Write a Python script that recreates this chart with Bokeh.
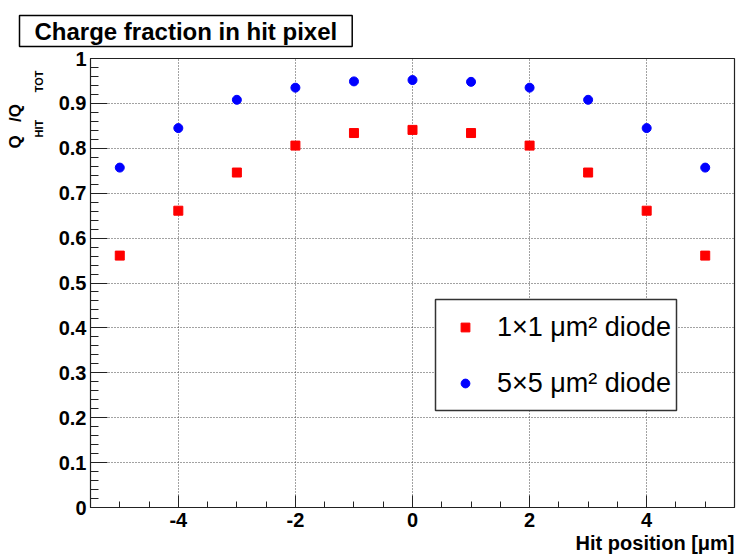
import numpy as np
from bokeh.plotting import figure
from bokeh.models import (Range1d, FixedTicker, Legend, LegendItem, Title,
                          BoxAnnotation)
from bokeh.embed import file_html
from bokeh.resources import INLINE

# ---- data ----
hit_position = [-5, -4, -3, -2, -1, 0, 1, 2, 3, 4, 5]
frac_1x1 = [0.561, 0.661, 0.746, 0.806, 0.834, 0.841, 0.834, 0.806, 0.746, 0.661, 0.561]
frac_5x5 = [0.757, 0.845, 0.908, 0.935, 0.949, 0.952, 0.948, 0.935, 0.908, 0.845, 0.757]
x_major_ticks = [-4, -2, 0, 2, 4]
x_tick_labels = ["-4", "-2", "0", "2", "4"]
y_major_ticks = [round(v, 1) for v in np.arange(0, 1.01, 0.1)]
title_text = "Charge fraction in hit pixel"
xlabel_text = "Hit position [μm]"
legend_labels = ["1×1 μm² diode", "5×5 μm² diode"]

FONT = "Liberation Sans"

p = figure(width=736, height=554, output_backend="svg", toolbar_location=None,
           x_range=Range1d(-5.5, 5.5), y_range=Range1d(0, 1),
           min_border_left=90, min_border_right=2, min_border_top=58,
           min_border_bottom=47, background_fill_color="white",
           border_fill_color="white")
p.outline_line_color = "#222222"
p.outline_line_width = 1.2

# axes
p.xaxis.ticker = FixedTicker(ticks=x_major_ticks,
                             minor_ticks=[float(v) for v in np.arange(-5, 5.01, 0.5)])
p.xaxis.major_label_overrides = dict(zip(x_major_ticks, x_tick_labels))
p.yaxis.ticker = FixedTicker(ticks=y_major_ticks,
                             minor_ticks=[float(v) for v in np.arange(0, 1.001, 0.02)])
p.yaxis.major_label_overrides = {0: "0", 1: "1"}
for ax in (p.xaxis[0], p.yaxis[0]):
    ax.axis_line_color = "#222222"
    ax.major_tick_line_color = "#222222"
    ax.minor_tick_line_color = "#222222"
    ax.major_tick_out = 0
    ax.minor_tick_out = 0
    ax.major_label_text_font = FONT
    ax.major_label_text_font_style = "bold"
    ax.major_label_text_font_size = "20px"
    ax.major_label_text_color = "black"
p.xaxis.major_tick_in = 12
p.xaxis.minor_tick_in = 6
p.xaxis.major_label_standoff = 5
p.yaxis.major_tick_in = 17
p.yaxis.minor_tick_in = 8
p.yaxis.major_label_standoff = 4

for g in (p.xgrid[0], p.ygrid[0]):
    g.grid_line_color = "#444444"
    g.grid_line_dash = "1 2"
    g.grid_line_width = 1

r1 = p.scatter(hit_position, frac_1x1, marker="square", size=9,
               fill_color="#ff0000", line_color="#ff0000")
r2 = p.scatter(hit_position, frac_5x5, marker="circle", size=9,
               fill_color="#0000ff", line_color="#0000ff")

# legend frame (box) and legend entries
p.add_layout(BoxAnnotation(left=345, right=586, bottom=97, top=208,
                           left_units="screen", right_units="screen",
                           top_units="screen", bottom_units="screen",
                           fill_color="white", fill_alpha=1.0,
                           line_color="#333333", line_width=1.5, line_alpha=1.0))
legend = Legend(items=[LegendItem(label=legend_labels[0], renderers=[r1]),
                       LegendItem(label=legend_labels[1], renderers=[r2])],
                location=(364, 104), margin=0, padding=8, spacing=16,
                glyph_height=40, glyph_width=22, label_height=40,
                label_standoff=21, label_text_font=FONT,
                label_text_font_size="27px", label_text_color="black",
                border_line_color=None, background_fill_alpha=0.0)
p.add_layout(legend)

# spacer between frame and title box, then the title box (above)
p.add_layout(Title(text="\u00a0", text_font_size="1px", standoff=9), "above")
p.add_layout(Title(text=title_text, text_font=FONT, text_font_style="bold",
                   text_font_size="24px", text_color="black", align="left",
                   offset=-71, vertical_align="bottom", standoff=0,
                   padding=(15, 2), border_line_color="black",
                   border_line_width=1.5, background_fill_color="white"),
             "above")

# x axis label (below, right aligned)
p.add_layout(Title(text=xlabel_text, text_font=FONT, text_font_style="bold",
                   text_font_size="20px", text_color="black", align="right",
                   offset=0, standoff=0), "below")

# y axis label Q_HIT/Q_TOT: subscript line and main line
p.add_layout(Title(text="HIT\u2003\u2003\u2002TOT", text_font=FONT,
                   text_font_style="bold", text_font_size="11px",
                   text_color="black", align="left", offset=370,
                   vertical_align="top", standoff=17), "left")
p.add_layout(Title(text="Q\u2002\u00a0/Q", text_font=FONT,
                   text_font_style="bold", text_font_size="17px",
                   text_color="black", align="left", offset=359,
                   vertical_align="bottom", standoff=0,
                   text_line_height=0.5), "left")

open("out.html", "w").write(file_html(p, INLINE))
